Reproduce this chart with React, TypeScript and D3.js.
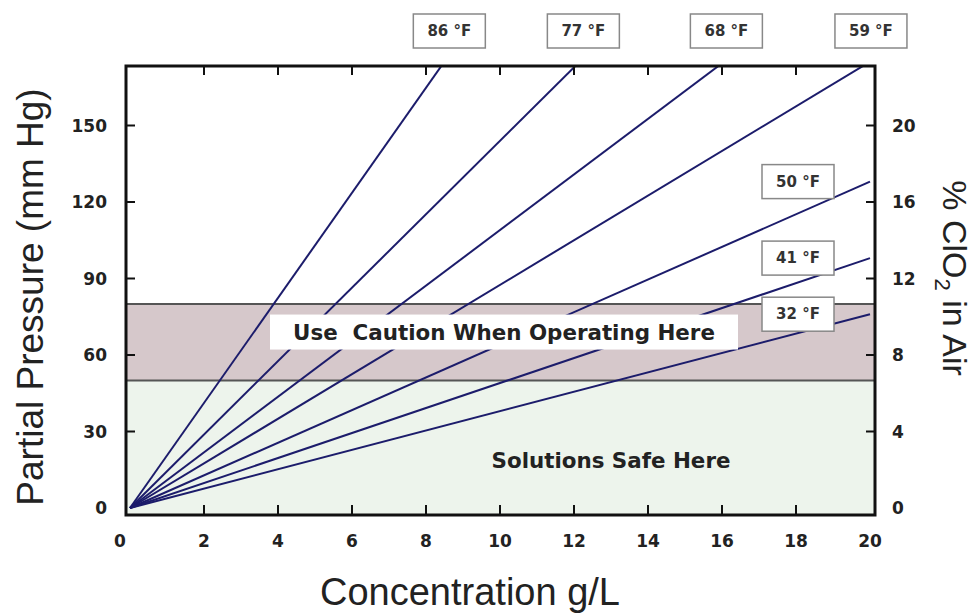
import * as d3 from 'd3';

// isotherm labels and the partial pressure (mm Hg) each reaches at 20 g/L
const temps = ['86 °F', '77 °F', '68 °F', '59 °F', '50 °F', '41 °F', '32 °F'];
const pressureAt20 = [412, 288, 218, 175, 128, 98, 76];

const xTicks = [0, 2, 4, 6, 8, 10, 12, 14, 16, 18, 20];
const yTicks = [0, 30, 60, 90, 120, 150];
const pctTicks = [0, 4, 8, 12, 16, 20];

// caution zone, mm Hg
const cautionBand = [50, 80];

const W = 977;
const H = 613;
const left = 126;
const right = 875;
const top = 66;
const bottom = 515;

const bold = '"DejaVu Sans", sans-serif';
const sans = '"Liberation Sans", Arial, sans-serif';

export default function App() {
  const x = d3.scaleLinear().domain([0, 20]).range([130, 870]);
  const y = d3.scaleLinear().domain([0, 150]).range([508, 125.5]);
  const yPct = d3.scaleLinear().domain([0, 20]).range([508, 125.5]);
  const line = d3
    .line<[number, number]>()
    .x((d) => x(d[0]))
    .y((d) => y(d[1]));

  const yTop = y.invert(top);

  const labels = temps.map((t, i) => {
    const p = pressureAt20[i];
    if (p > yTop) {
      return { t, cx: x((20 * yTop) / p) + 8, cy: 31 };
    }
    return { t, cx: 798, cy: y(p) };
  });

  return (
    <svg
      width={W}
      height={H}
      style={{ position: 'absolute', left: 0, top: 0, background: '#fff' }}
    >
      <defs>
        <clipPath id='plot'>
          <rect x={left} y={top} width={right - left} height={bottom - top} />
        </clipPath>
      </defs>

      {/* zones */}
      <rect
        x={left}
        y={y(cautionBand[0])}
        width={right - left}
        height={bottom - y(cautionBand[0])}
        fill='#edf4ec'
      />
      <rect
        x={left}
        y={y(cautionBand[1])}
        width={right - left}
        height={y(cautionBand[0]) - y(cautionBand[1])}
        fill='#d6c8cb'
      />
      {cautionBand.map((v) => (
        <line
          key={v}
          x1={left}
          x2={right}
          y1={y(v)}
          y2={y(v)}
          stroke='#555'
          strokeWidth={2}
        />
      ))}

      {/* isotherms */}
      <g clipPath='url(#plot)'>
        {pressureAt20.map((p, i) => (
          <path
            key={i}
            d={line([
              [0, 0],
              [20, p],
            ]) as string}
            fill='none'
            stroke='#1c1c6b'
            strokeWidth={2}
          />
        ))}
      </g>

      {/* annotations */}
      <rect x={270} y={y(69) - 17.5} width={468} height={35} fill='#fff' />
      <text
        x={504}
        y={y(69)}
        dominantBaseline='central'
        textAnchor='middle'
        fontFamily={bold}
        fontWeight='bold'
        fontSize={21.4}
        fill='#222'
        style={{ whiteSpace: 'pre' }}
      >
        {'Use  Caution When Operating Here'}
      </text>
      <text
        x={611}
        y={y(18.5)}
        dominantBaseline='central'
        textAnchor='middle'
        fontFamily={bold}
        fontWeight='bold'
        fontSize={21.4}
        fill='#222'
      >
        Solutions Safe Here
      </text>

      {labels.map((l) => (
        <g key={l.t}>
          <rect
            x={l.cx - 36}
            y={l.cy - 17}
            width={72}
            height={34}
            fill='#fff'
            stroke='#888'
            strokeWidth={1.5}
          />
          <text
            x={l.cx}
            y={l.cy}
            dominantBaseline='central'
            textAnchor='middle'
            fontFamily={bold}
            fontWeight='bold'
            fontSize={15}
            fill='#333'
          >
            {l.t}
          </text>
        </g>
      ))}

      {/* frame and ticks */}
      <rect
        x={left}
        y={top}
        width={right - left}
        height={bottom - top}
        fill='none'
        stroke='#111'
        strokeWidth={3}
      />
      {xTicks.slice(1, -1).map((v) => (
        <g key={'x' + v} stroke='#111' strokeWidth={2}>
          <line x1={x(v)} x2={x(v)} y1={bottom} y2={bottom - 10} />
          <line x1={x(v)} x2={x(v)} y1={top} y2={top + 9} />
        </g>
      ))}
      {yTicks.slice(1).map((v) => (
        <line
          key={'y' + v}
          x1={left}
          x2={left + 9}
          y1={y(v)}
          y2={y(v)}
          stroke='#111'
          strokeWidth={2}
        />
      ))}
      {pctTicks.slice(1).map((v) => (
        <line
          key={'p' + v}
          x1={right}
          x2={right - 9}
          y1={yPct(v)}
          y2={yPct(v)}
          stroke='#111'
          strokeWidth={2}
        />
      ))}

      {/* tick labels */}
      <g fontFamily={bold} fontWeight='bold' fontSize={17} fill='#222'>
        {xTicks.map((v) => (
          <text key={'xl' + v} x={x(v) - (v === 0 ? 10 : 0)} y={547} textAnchor='middle'>
            {v}
          </text>
        ))}
        {yTicks.map((v) => (
          <text
            key={'yl' + v}
            x={107}
            y={y(v)}
            textAnchor='end'
            dominantBaseline='central'
          >
            {v}
          </text>
        ))}
        {pctTicks.map((v) => (
          <text
            key={'pl' + v}
            x={892}
            y={yPct(v)}
            textAnchor='start'
            dominantBaseline='central'
          >
            {v}
          </text>
        ))}
      </g>

      {/* axis titles */}
      <text
        x={470}
        y={605}
        textAnchor='middle'
        fontFamily={sans}
        fontSize={38}
        fill='#222'
      >
        Concentration g/L
      </text>
      <text
        transform={`translate(43,297) rotate(-90)`}
        textAnchor='middle'
        fontFamily={sans}
        fontSize={37}
        fill='#222'
      >
        Partial Pressure (mm Hg)
      </text>
      <text
        transform={`translate(943,278) rotate(90)`}
        textAnchor='middle'
        fontFamily={sans}
        fontSize={34}
        fill='#222'
      >
        % ClO
        <tspan fontSize={22} dy={8}>
          2
        </tspan>
        <tspan dy={-8}> in Air</tspan>
      </text>
    </svg>
  );
}
